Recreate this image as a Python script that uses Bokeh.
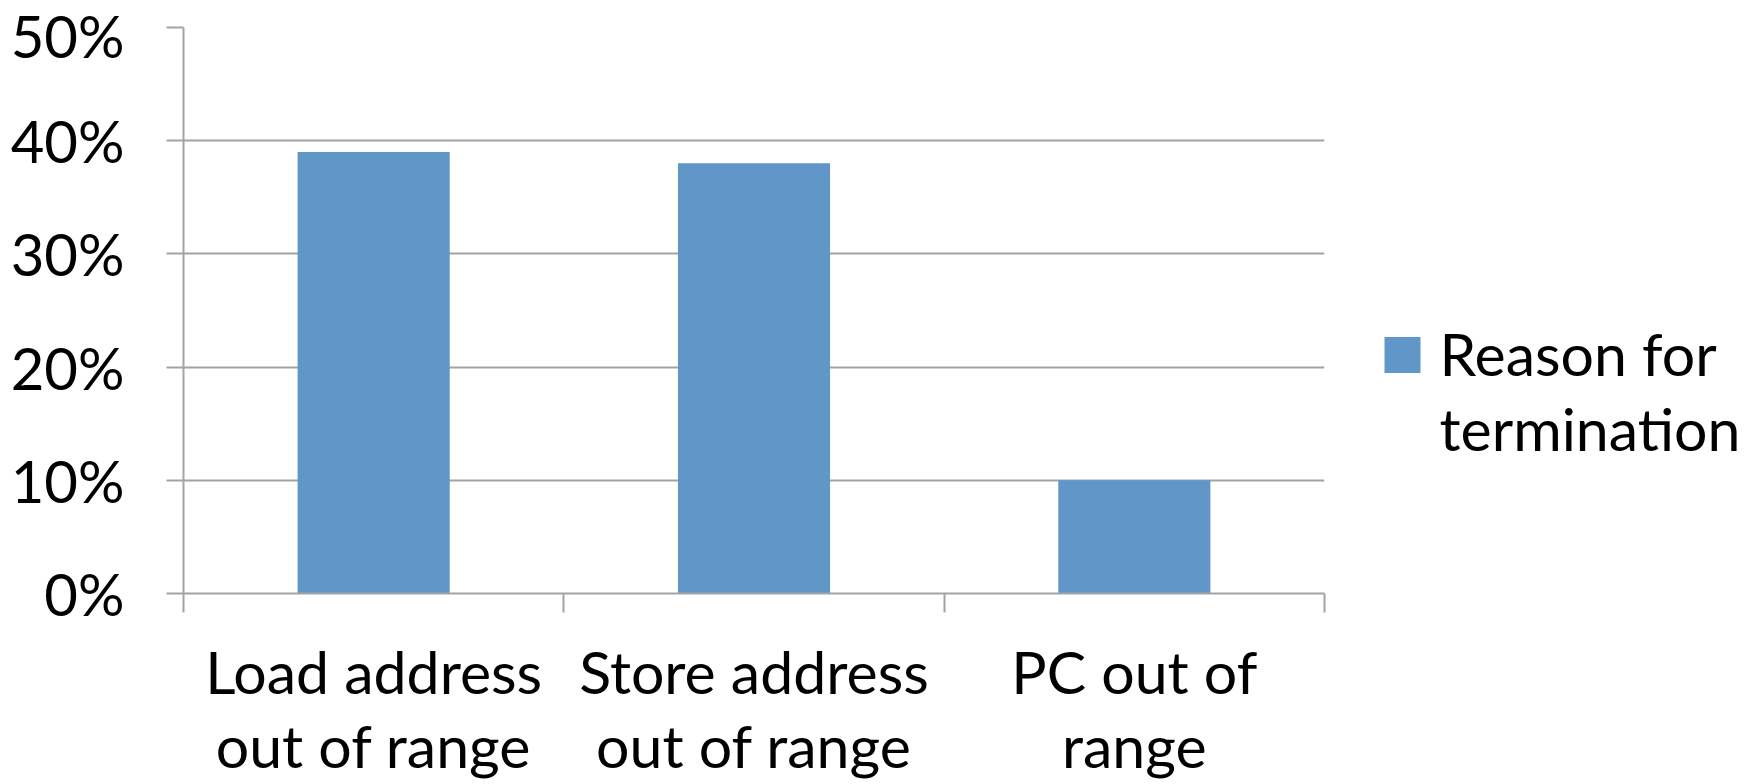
from bokeh.plotting import figure
from bokeh.layouts import row
from bokeh.models import (Range1d, FixedTicker, LinearAxis, NumeralTickFormatter,
                          Grid, ColumnDataSource)
from bokeh.core.properties import value
from bokeh.embed import file_html
from bokeh.resources import INLINE

categories = ["Load address\nout of range", "Store address\nout of range", "PC out of\nrange"]
values = [0.39, 0.38, 0.10]
series_name = "Reason for\ntermination"
y_ticks = [0.0, 0.1, 0.2, 0.3, 0.4, 0.5]

FONT = "Lato"
FS_Y = "58px"
FS = "59px"
GRAY = "#A3A3A3"
BAR = "#6196C8"
LH = 1.05

n = len(categories)
centers = [i + 0.5 for i in range(n)]
bounds = [float(i) for i in range(n + 1)]

TOP, BOTTOM = 27, 190
MAIN_W = 1340
p = figure(width=MAIN_W, height=784, output_backend="svg", toolbar_location=None,
           x_range=Range1d(0, n), y_range=Range1d(0, y_ticks[-1]),
           x_axis_location=None, y_axis_location=None,
           min_border_left=183, min_border_right=16,
           min_border_top=TOP, min_border_bottom=BOTTOM)
p.outline_line_color = None
p.background_fill_color = "white"
p.border_fill_color = "white"
for g in p.grid:
    g.visible = False

grid = Grid(dimension=1, ticker=FixedTicker(ticks=y_ticks),
            grid_line_color=GRAY, grid_line_width=2)
p.add_layout(grid, "center")

src = ColumnDataSource(dict(x=centers, top=values, cat=categories))
bars = p.vbar(x="x", top="top", bottom=0, width=0.4, source=src,
              fill_color=BAR, line_color=None)

yaxis = LinearAxis(ticker=FixedTicker(ticks=y_ticks),
                   formatter=NumeralTickFormatter(format="0%"),
                   major_tick_out=17, major_tick_in=0,
                   minor_tick_line_color=None,
                   axis_line_color=GRAY, axis_line_width=2,
                   major_tick_line_color=GRAY, major_tick_line_width=2,
                   major_label_text_font=FONT, major_label_text_font_size=FS_Y,
                   major_label_text_color="black", major_label_standoff=42)
p.add_layout(yaxis, "left")

# category labels at the centres, category boundaries drawn as minor ticks
xaxis = LinearAxis(ticker=FixedTicker(ticks=centers, minor_ticks=bounds),
                   major_label_overrides={c: lab for c, lab in zip(centers, categories)},
                   major_tick_out=0, major_tick_in=0, major_tick_line_color=None,
                   minor_tick_out=19, minor_tick_in=0,
                   minor_tick_line_color=GRAY, minor_tick_line_width=2,
                   axis_line_color=GRAY, axis_line_width=2,
                   major_label_text_font=FONT, major_label_text_font_size=FS,
                   major_label_text_color="black", major_label_text_line_height=LH,
                   major_label_standoff=23)
p.add_layout(xaxis, "below")

# legend panel: its frame is aligned with the main frame (rows align frames),
# so use page-pixel y coordinates of that frame (y downward)
LEG_W = 1760 - MAIN_W
q = figure(width=LEG_W, height=784, output_backend="svg", toolbar_location=None,
           x_range=Range1d(0, LEG_W), y_range=Range1d(784 - BOTTOM, TOP),
           x_axis_location=None, y_axis_location=None,
           min_border_left=0, min_border_right=0,
           min_border_top=TOP, min_border_bottom=BOTTOM)
q.outline_line_color = None
q.background_fill_color = "white"
q.border_fill_color = "white"
for g in q.grid:
    g.visible = False

q.quad(left=[44], right=[80], top=[337], bottom=[373], fill_color=BAR, line_color=None)
q.text(x=[99], y=[318], text=[series_name], text_font=value(FONT),
       text_font_size=FS, text_color="black", text_baseline="top",
       text_align="left", text_line_height=LH)

open("out.html", "w").write(file_html(row(p, q), INLINE))
